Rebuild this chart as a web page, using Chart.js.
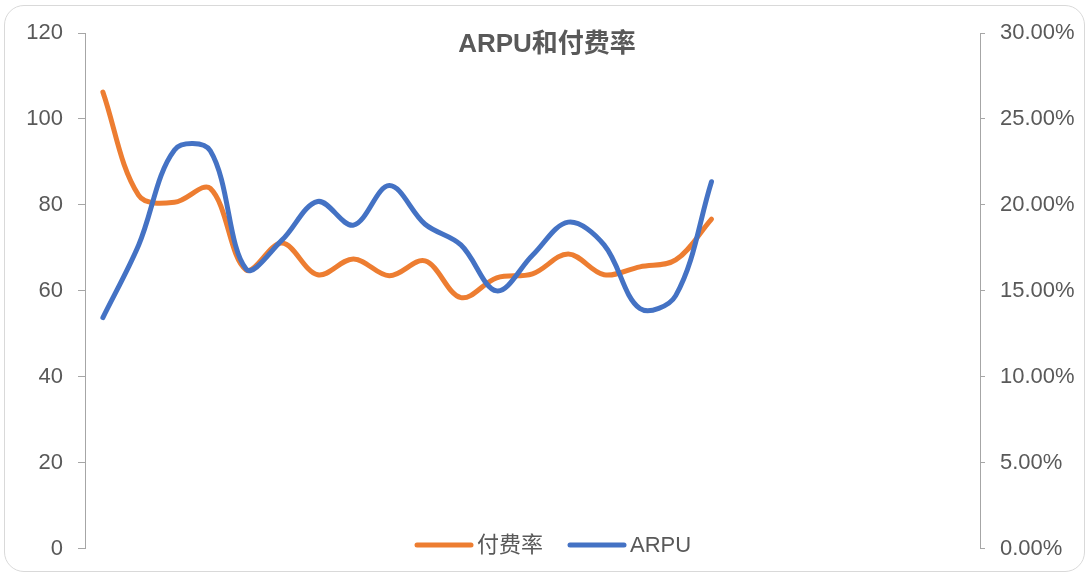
<!DOCTYPE html>
<html>
<head>
<meta charset="utf-8">
<script src="https://cdn.jsdelivr.net/npm/chart.js@4.4.1/dist/chart.umd.min.js"></script>
<style>
  html, body { margin: 0; padding: 0; background: #fff; }
  #wrap { position: relative; width: 1089px; height: 577px; }
  #frame {
    position: absolute; left: 4px; top: 5px; width: 1079px; height: 565px;
    border: 1.5px solid #d9d9d9; border-radius: 20px; pointer-events: none;
  }
</style>
</head>
<body>
<div id="wrap">
  <canvas id="chart" width="1089" height="577"></canvas>
  <div id="frame"></div>
</div>
<script>
// 25 daily slots on the axis, only the first 18 have data so far
const days = Array.from({ length: 25 }, (_, i) => (i + 1) + '日');
const arpu = [53.8, 70.7, 92.8, 92.6, 65.1, 71.8, 80.8, 75.3, 84.5, 75.5, 70.7, 60.0, 68.3, 76.0, 70.7, 55.9, 58.9, 85.4];
const payRate = [26.56, 20.55, 20.15, 20.96, 16.22, 17.78, 15.94, 16.86, 15.88, 16.74, 14.61, 15.76, 15.99, 17.15, 15.94, 16.40, 16.80, 19.17];
const arpuTicks = { min: 0, max: 120, step: 20 };
const rateTicks = { min: 0, max: 30, step: 5 };

const ORANGE = '#ED7D31';
const BLUE = '#4472C4';
const TEXT = '#595959';
const AXIS = '#a6a6a6';

// title and legend sit on top of the plot area, so they are painted by hand
const overlay = {
    id: 'overlay',
    afterDraw(chart) {
        const ctx = chart.ctx;
        ctx.save();
        ctx.fillStyle = TEXT;
        ctx.textBaseline = 'middle';
        ctx.textAlign = 'center';
        ctx.font = 'bold 26px "Liberation Sans", "Noto Sans CJK SC", sans-serif';
        ctx.fillText('ARPU和付费率', 547, 45);

        ctx.textAlign = 'left';
        ctx.font = '22px "Liberation Sans", "Noto Sans CJK SC", sans-serif';
        let x = 417;
        const y = 545;
        [chart.data.datasets[1], chart.data.datasets[0]].forEach(ds => {
            ctx.strokeStyle = ds.borderColor;
            ctx.lineWidth = 5;
            ctx.lineCap = 'round';
            ctx.beginPath();
            ctx.moveTo(x, y);
            ctx.lineTo(x + 54, y);
            ctx.stroke();
            ctx.fillText(ds.label, x + 60, y + 1);
            x += 60 + ctx.measureText(ds.label).width + 27;
        });
        ctx.restore();
    }
};

const ctx = document.getElementById('chart').getContext('2d');
new Chart(ctx, {
    type: 'line',
    data: {
        labels: days,
        datasets: [{
            label: 'ARPU',
            data: arpu,
            yAxisID: 'y',
            borderColor: BLUE,
            borderWidth: 5,
            order: 0
        }, {
            label: '付费率',
            data: payRate,
            yAxisID: 'y1',
            borderColor: ORANGE,
            borderWidth: 5,
            order: 1
        }]
    },
    options: {
        responsive: false,
        animation: false,
        layout: { padding: { top: 33, bottom: 24, left: 0, right: 0 } },
        elements: {
            point: { radius: 0 },
            line: { tension: 0.35, borderCapStyle: 'round', borderJoinStyle: 'round' }
        },
        plugins: {
            legend: { display: false },
            title: { display: false },
            tooltip: { enabled: false }
        },
        scales: {
            x: { display: false, offset: true },
            y: {
                position: 'left',
                min: arpuTicks.min,
                max: arpuTicks.max,
                afterFit: s => { s.width = 85; },
                ticks: {
                    stepSize: arpuTicks.step,
                    padding: 15,
                    color: TEXT,
                    font: { family: '"Liberation Sans", sans-serif', size: 22 }
                },
                grid: { drawOnChartArea: false, tickLength: 7, color: AXIS },
                border: { color: AXIS }
            },
            y1: {
                position: 'right',
                min: rateTicks.min,
                max: rateTicks.max,
                afterFit: s => { s.width = 109; },
                ticks: {
                    stepSize: rateTicks.step,
                    padding: 15,
                    color: TEXT,
                    font: { family: '"Liberation Sans", sans-serif', size: 22 },
                    callback: v => v.toFixed(2) + '%'
                },
                grid: { drawOnChartArea: false, tickLength: 5, color: AXIS },
                border: { color: AXIS }
            }
        }
    },
    plugins: [overlay]
});
</script>
</body>
</html>
